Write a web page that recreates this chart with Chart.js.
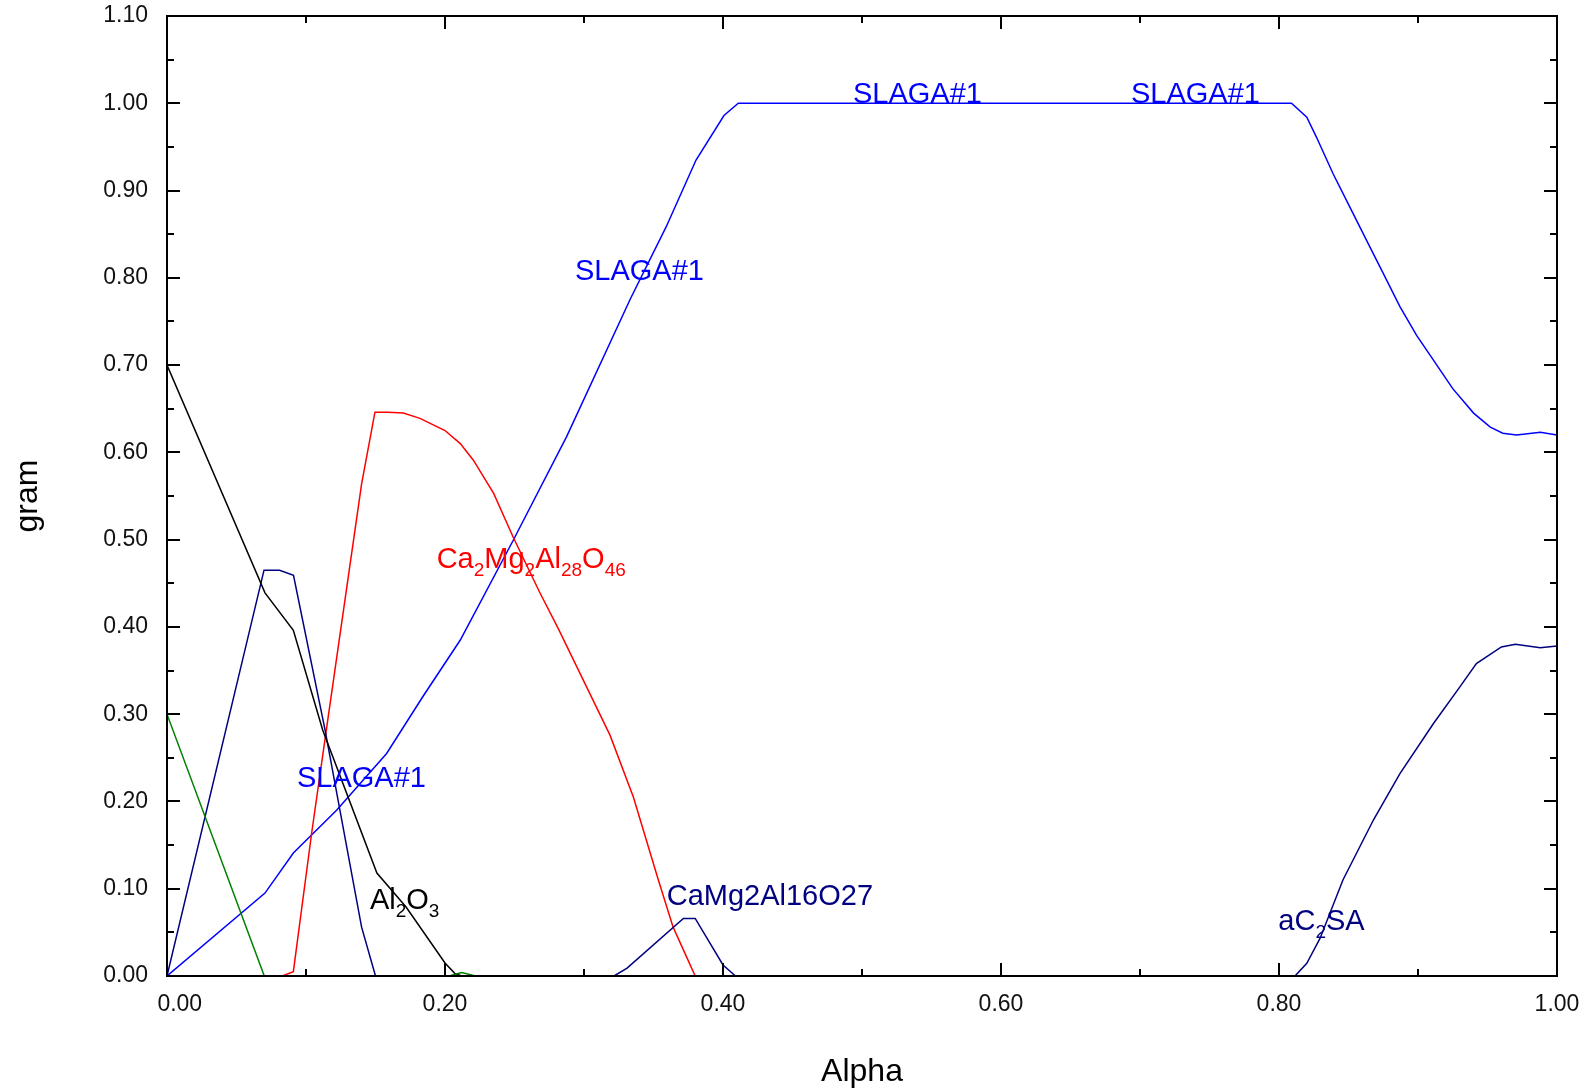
<!DOCTYPE html>
<html>
<head>
<meta charset="utf-8">
<title>gram vs Alpha</title>
<script src="https://cdn.jsdelivr.net/npm/chart.js@4.4.1/dist/chart.umd.min.js"></script>
<style>
  html, body { margin: 0; padding: 0; background: #fff; }
  #wrap { width: 1593px; height: 1089px; position: relative; }
</style>
</head>
<body>
<div id="wrap"><canvas id="c"></canvas></div>
<script>
const FONT = "'Liberation Sans', Arial, sans-serif";

// axis ticks
const xTicks = [0, 0.2, 0.4, 0.6, 0.8, 1.0];
const xMinor = [0.1, 0.3, 0.5, 0.7, 0.9];
const yTicks = [0, 0.1, 0.2, 0.3, 0.4, 0.5, 0.6, 0.7, 0.8, 0.9, 1.0, 1.1];
const yMinor = [0.05, 0.15, 0.25, 0.35, 0.45, 0.55, 0.65, 0.75, 0.85, 0.95, 1.05];

// SLAGA#1 (blue)
const slagX = [0, 0.0705, 0.0909, 0.122, 0.158, 0.184, 0.211, 0.249, 0.2875, 0.3334, 0.359, 0.3806, 0.4007, 0.411,
  0.809, 0.82, 0.827, 0.839, 0.851, 0.863, 0.875, 0.887, 0.899, 0.911, 0.925, 0.94, 0.952, 0.961, 0.971, 0.988, 1.0];
const slagY = [0, 0.095, 0.141, 0.19, 0.255, 0.32, 0.385, 0.499, 0.618, 0.776, 0.858, 0.935, 0.986, 1.0,
  1.0, 0.984, 0.961, 0.919, 0.881, 0.843, 0.805, 0.767, 0.734, 0.706, 0.673, 0.645, 0.629, 0.622, 0.62, 0.623, 0.62];

// Ca2Mg2Al28O46 (red)
const cmaX = [0.083, 0.0909, 0.104, 0.115, 0.14, 0.1496, 0.159, 0.17, 0.182, 0.2, 0.211, 0.2204, 0.235, 0.249, 0.268,
  0.2815, 0.3187, 0.3355, 0.3535, 0.364, 0.3715, 0.38];
const cmaY = [0, 0.005, 0.163, 0.286, 0.564, 0.646, 0.646, 0.645, 0.639, 0.625, 0.61, 0.591, 0.553, 0.503, 0.44,
  0.398, 0.276, 0.205, 0.11, 0.0565, 0.03, 0];

// Al2O3 (black)
const aloX = [0, 0.0705, 0.0909, 0.112, 0.151, 0.172, 0.2, 0.207, 0.212];
const aloY = [0.7, 0.439, 0.396, 0.282, 0.118, 0.079, 0.015, 0.003, 0];

// green phase
const grnX = [0, 0.07, 0.1, 0.203, 0.212, 0.222];
const grnY = [0.3, 0, null, 0, 0.004, 0];

// navy phases
const navAX = [0, 0.0698, 0.081, 0.091, 0.1137, 0.14, 0.15];
const navAY = [0, 0.465, 0.465, 0.459, 0.282, 0.056, 0];
const navBX = [0.3216, 0.331, 0.3715, 0.38, 0.4, 0.409];
const navBY = [0, 0.009, 0.066, 0.066, 0.0126, 0];
const navCX = [0.8115, 0.82, 0.8295, 0.846, 0.868, 0.887, 0.911, 0.93, 0.942, 0.96, 0.97, 0.988, 1.0];
const navCY = [0, 0.0145, 0.043, 0.11, 0.179, 0.232, 0.289, 0.331, 0.358, 0.377, 0.38, 0.376, 0.378];

// curve labels (x = left edge, y = baseline), "_nn" = subscript
const labelTexts = ['SLAGA#1', 'SLAGA#1', 'SLAGA#1', 'SLAGA#1', 'Ca_2Mg_2Al_28O_46', 'Al_2O_3', 'CaMg2Al16O27', 'aC_2SA'];
const labelX = [0.4935, 0.6935, 0.2935, 0.0935, 0.194, 0.146, 0.3595, 0.7995];
const labelY = [1.0, 1.0, 0.797, 0.217, 0.467, 0.0764, 0.0813, 0.0527];
const labelColors = ['#0000ff', '#0000ff', '#0000ff', '#0000ff', '#ff0000', '#000000', '#000080', '#000080'];

const BLUE = '#0000ff', RED = '#ff0000', NAVY = '#000080', GREEN = '#008000', BLACK = '#000000';

const pts = (xs, ys) => xs.map((x, i) => ({ x, y: ys[i] }));
const line = (xs, ys, color) => ({
  data: pts(xs, ys),
  borderColor: color,
  borderWidth: 1.5,
  pointRadius: 0,
  tension: 0,
  spanGaps: false,
});

const frameTicks = {
  id: 'frameTicks',
  afterDatasetsDraw(chart) {
    const { ctx, chartArea: a, scales: { x, y } } = chart;
    ctx.save();
    ctx.strokeStyle = '#000';
    ctx.lineWidth = 2;
    ctx.beginPath();
    const vTick = (v, len) => {
      const px = Math.round(x.getPixelForValue(v));
      ctx.moveTo(px, a.bottom); ctx.lineTo(px, a.bottom - len);
      ctx.moveTo(px, a.top); ctx.lineTo(px, a.top + len);
    };
    const hTick = (v, len) => {
      const py = Math.round(y.getPixelForValue(v));
      ctx.moveTo(a.left, py); ctx.lineTo(a.left + len, py);
      ctx.moveTo(a.right, py); ctx.lineTo(a.right - len, py);
    };
    xTicks.forEach(v => vTick(v, 13));
    xMinor.forEach(v => vTick(v, 7));
    yTicks.forEach(v => hTick(v, 13));
    yMinor.forEach(v => hTick(v, 7));
    ctx.stroke();
    ctx.strokeRect(a.left, a.top, a.right - a.left, a.bottom - a.top);
    ctx.restore();
  }
};

const curveLabels = {
  id: 'curveLabels',
  afterDraw(chart) {
    const { ctx, scales: { x, y } } = chart;
    ctx.save();
    ctx.textBaseline = 'alphabetic';
    ctx.textAlign = 'left';
    labelTexts.forEach((txt, i) => {
      let px = x.getPixelForValue(labelX[i]);
      const py = y.getPixelForValue(labelY[i]);
      ctx.fillStyle = labelColors[i];
      txt.split(/(_\d+)/).filter(Boolean).forEach(part => {
        const sub = part[0] === '_';
        const s = sub ? part.slice(1) : part;
        ctx.font = (sub ? '19px ' : '29px ') + FONT;
        ctx.fillText(s, px, py + (sub ? 8 : 0));
        px += ctx.measureText(s).width;
      });
    });
    ctx.restore();
  }
};

new Chart(document.getElementById('c'), {
  type: 'line',
  data: {
    datasets: [
      line(grnX, grnY, GREEN),
      line(aloX, aloY, BLACK),
      line(navAX, navAY, NAVY),
      line(navBX, navBY, NAVY),
      line(navCX, navCY, NAVY),
      line(cmaX, cmaY, RED),
      line(slagX, slagY, BLUE),
    ],
  },
  options: {
    responsive: true,
    maintainAspectRatio: false,
    animation: false,
    layout: { padding: { top: 16, right: 36, left: 0, bottom: 0 } },
    plugins: { legend: { display: false }, tooltip: { enabled: false } },
    scales: {
      x: {
        type: 'linear',
        min: 0, max: 1,
        grid: { display: false, drawTicks: false },
        border: { display: false },
        afterBuildTicks: s => { s.ticks = xTicks.map(v => ({ value: v })); },
        afterFit: s => { s.height = 113; s.paddingLeft = 0; s.paddingRight = 0; },
        ticks: {
          // the 0.00 label sits a little right of its tick, clear of the y-axis label
          callback: v => (v === 0 ? '    ' : '') + v.toFixed(2),
          font: { family: FONT, size: 23 },
          color: '#111',
          padding: 15,
          maxRotation: 0,
        },
        title: {
          display: true, text: 'Alpha',
          font: { family: FONT, size: 32 },
          color: '#000',
          padding: { top: 0, bottom: -2 },
        },
      },
      y: {
        min: 0, max: 1.1,
        grid: { display: false, drawTicks: false },
        border: { display: false },
        afterBuildTicks: s => { s.ticks = yTicks.map(v => ({ value: v })); },
        afterFit: s => { s.width = 167; s.paddingTop = 0; s.paddingBottom = 0; },
        ticks: {
          callback: v => v.toFixed(2),
          font: { family: FONT, size: 23 },
          color: '#111',
          padding: 19,
        },
        title: {
          display: true, text: 'gram',
          font: { family: FONT, size: 32 },
          color: '#000',
          padding: { top: 9, bottom: 0 },
        },
      },
    },
  },
  plugins: [frameTicks, curveLabels],
});
</script>
</body>
</html>
